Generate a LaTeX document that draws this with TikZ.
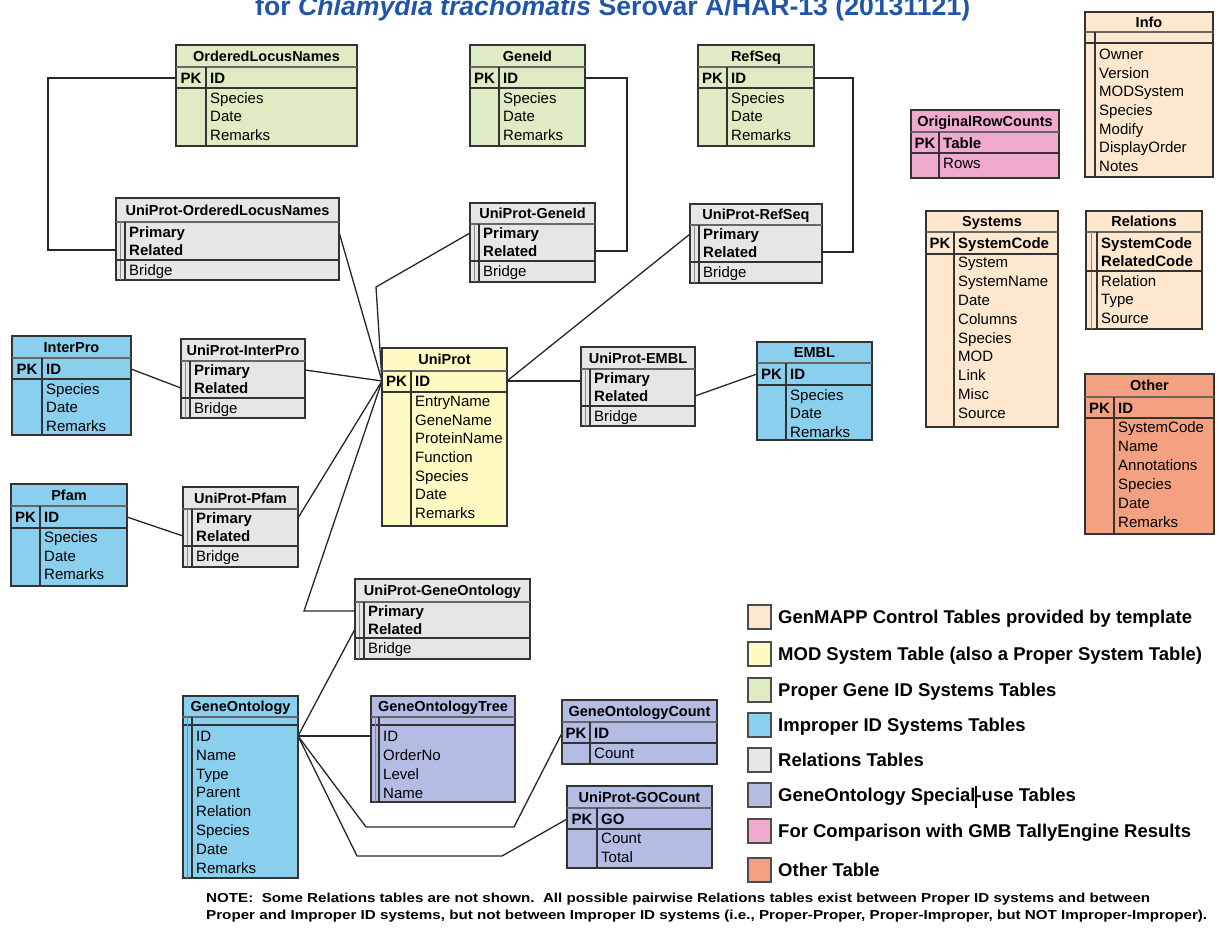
\documentclass[tikz,border=0pt]{standalone}
\usepackage{fontspec}
\setmainfont{Liberation Sans}
\usepackage{graphicx}
\usetikzlibrary{calc}
\pgfdeclarelayer{background}
\pgfsetlayers{background,main}
\definecolor{cpeach}{HTML}{FDE8CF}
\definecolor{cyellow}{HTML}{FFF9C2}
\definecolor{cgreen}{HTML}{DEEBC3}
\definecolor{cblue}{HTML}{8ACFEE}
\definecolor{cgrey}{HTML}{E6E6E6}
\definecolor{clav}{HTML}{B4BCE3}
\definecolor{cpink}{HTML}{F0AACE}
\definecolor{csalmon}{HTML}{F4A182}
\definecolor{ctitle}{HTML}{1F56A8}
\tikzset{
  tbl/.style={draw=black!80, line width=1.5pt, inner sep=0pt, outer sep=0pt, anchor=north west},
  hsep/.style={draw=black!60, line width=1.8pt},
  ksep/.style={draw=black!80, line width=1.3pt},
  vsep/.style={draw=black!80, line width=1.3pt},
  thinsep/.style={draw=black!45, line width=0.8pt},
  hdr/.style={font=\bfseries\fontsize{14.5}{17}\selectfont, inner sep=0pt, text height=10.5pt, text depth=0pt},
  pkt/.style={font=\bfseries\fontsize{15}{18}\selectfont, inner sep=0pt, text height=10.8pt, text depth=0pt},
  kf/.style={anchor=west, font=\bfseries\fontsize{15}{18}\selectfont, inner sep=0pt, text height=10.8pt, text depth=0pt},
  ff/.style={anchor=west, font=\fontsize{15}{18}\selectfont, inner sep=0pt, text height=10.8pt, text depth=0pt},
  conn/.style={draw=black!85, line width=1.3pt},
  legbox/.style={draw=black!70, line width=1.5pt, minimum width=23pt, minimum height=24pt, inner sep=0pt},
  legtxt/.style={anchor=west, font=\bfseries\fontsize{18.5}{20}\selectfont, inner sep=0pt, text height=13.3pt, text depth=0pt},
  notetxt/.style={anchor=base west, font=\bfseries\fontsize{13}{15}\selectfont, inner sep=0pt},
}
% #1 name, #2 x1, #3 y1, #4 x2, #5 y2, #6 fill, #7 header bottom, #8 title
\newcommand\erbox[8]{%
  \node[tbl, fill=#6, minimum width={#4-#2}, minimum height={#5-#3}] (#1) at (#2,#3) {};
  \draw[hsep] (#2,#7) -- (#4,#7);
  \node[hdr] (#1-h) at ({(#2+#4)/2},{(#3+#7)/2}) {#8};
}
\newcommand\erdiv[3]{\draw[vsep] (#1,#2) -- (#1,#3);}
% #1 name, #2 x1, #3 xd, #4 x2, #5 key bottom, #6 key centre y, #7 key text
\newcommand\erkeyrow[7]{%
  \draw[ksep] (#2,#5) -- (#4,#5);
  \node[pkt] (#1-pk) at ({(#2+#3)/2},#6) {PK};
  \node[kf] (#1-k-1) at (#3+4,#6) {#7};
}
% #1 prefix, #2 x, #3 first y, #4 spacing, #5 style, #6 list
\newcommand\erlist[6]{%
  \foreach \ftxt [count=\fidx] in {#6} {\node[#5] (#1-\fidx) at (#2,{#3+(\fidx-1)*#4}) {\ftxt};}
}
% relations table: #1 name, #2 x1, #3 y1, #4 x2, #5 y2, #6 header bottom, #7 title, #8 first key y, #9 key bottom
\newcommand\errel[9]{%
  \erbox{#1}{#2}{#3}{#4}{#5}{cgrey}{#6}{#7}
  \draw[thinsep] (#2+4,#6) -- (#2+4,#5);
  \draw[vsep] (#2+9,#6) -- (#2+9,#5);
  \draw[ksep] (#2,#9) -- (#4,#9);
  \erlist{#1-k}{#2+13}{#8}{18}{kf}{Primary,Related}
  \node[ff] (#1-b) at (#2+13,{(#9+#5)/2}) {Bridge};
}
\begin{document}
\begin{tikzpicture}[x=1pt,y=-1pt]
\useasboundingbox (0,0) rectangle (1219,930);
\clip (0,0) rectangle (1219,930);

% title (cut at the top, as in the reference)
\node[anchor=base west, inner sep=0pt, text=ctitle, font=\bfseries\fontsize{26.5}{30}\selectfont] (title) at (255,15)
  {\resizebox{715pt}{\height}{for \textit{Chlamydia trachomatis} Serovar A/HAR-13 (20131121)}};

% OrderedLocusNames
\erbox{oln}{176}{45}{357}{146}{cgreen}{67}{OrderedLocusNames}
\erdiv{206}{67}{146}
\erkeyrow{oln}{176}{206}{357}{88}{78}{ID}
\erlist{oln-f}{210}{98}{18.5}{ff}{Species,Date,Remarks}
% GeneId
\erbox{gid}{470}{45}{585}{146}{cgreen}{67}{GeneId}
\erdiv{499}{67}{146}
\erkeyrow{gid}{470}{499}{585}{88}{78}{ID}
\erlist{gid-f}{503}{98}{18.5}{ff}{Species,Date,Remarks}
% RefSeq
\erbox{rs}{698}{45}{814}{146}{cgreen}{67}{RefSeq}
\erdiv{727}{67}{146}
\erkeyrow{rs}{698}{727}{814}{88}{78}{ID}
\erlist{rs-f}{731}{98}{18.5}{ff}{Species,Date,Remarks}
% Info
\erbox{info}{1085}{12}{1213}{177}{cpeach}{32}{Info}
\draw[ksep] (1085,43) -- (1213,43);
\erdiv{1095}{32}{177}
\erlist{info-f}{1099}{54}{18.7}{ff}{Owner,Version,MODSystem,Species,Modify,DisplayOrder,Notes}
% OriginalRowCounts
\erbox{orc}{911}{110}{1059}{178}{cpink}{132}{OriginalRowCounts}
\erdiv{939}{132}{178}
\erkeyrow{orc}{911}{939}{1059}{153}{143}{Table}
\erlist{orc-f}{943}{163}{18.7}{ff}{Rows}
% Systems
\erbox{sys}{926}{211}{1058}{427}{cpeach}{232}{Systems}
\erdiv{954}{232}{427}
\erkeyrow{sys}{926}{954}{1058}{254}{243}{SystemCode}
\erlist{sys-f}{958}{262}{18.9}{ff}{System,SystemName,Date,Columns,Species,MOD,Link,Misc,Source}
% Relations
\erbox{rel}{1086}{211}{1202}{329}{cpeach}{232}{Relations}
\draw[thinsep] (1091,232) -- (1091,329);
\draw[vsep] (1097,232) -- (1097,329);
\draw[ksep] (1086,271) -- (1202,271);
\erlist{rel-k}{1101}{243}{18}{kf}{SystemCode,RelatedCode}
\erlist{rel-f}{1101}{281}{18.5}{ff}{Relation,Type,Source}
% Other
\erbox{oth}{1085}{374}{1214}{534}{csalmon}{397}{Other}
\erdiv{1114}{397}{534}
\erkeyrow{oth}{1085}{1114}{1214}{418}{408}{ID}
\erlist{oth-f}{1118}{427}{19}{ff}{SystemCode,Name,Annotations,Species,Date,Remarks}
% InterPro
\erbox{ipr}{12}{336}{131}{435}{cblue}{358}{InterPro}
\erdiv{42}{358}{435}
\erkeyrow{ipr}{12}{42}{131}{379}{369}{ID}
\erlist{ipr-f}{46}{389}{18.5}{ff}{Species,Date,Remarks}
% Pfam
\erbox{pfam}{11}{484}{127}{586}{cblue}{506}{Pfam}
\erdiv{40}{506}{586}
\erkeyrow{pfam}{11}{40}{127}{528}{517}{ID}
\erlist{pfam-f}{44}{537}{18.7}{ff}{Species,Date,Remarks}
% EMBL
\erbox{embl}{757}{342}{872}{440}{cblue}{363}{EMBL}
\erdiv{786}{363}{440}
\erkeyrow{embl}{757}{786}{872}{385}{374}{ID}
\erlist{embl-f}{790}{395}{18.5}{ff}{Species,Date,Remarks}
% UniProt
\erbox{up}{382}{348}{507}{526}{cyellow}{371}{UniProt}
\erdiv{411}{371}{526}
\erkeyrow{up}{382}{411}{507}{392}{381}{ID}
\erlist{up-f}{415}{401}{18.7}{ff}{EntryName,GeneName,ProteinName,Function,Species,Date,Remarks}
% Relations tables
\errel{uoln}{116}{198}{339}{280}{222}{UniProt-OrderedLocusNames}{232}{260}
\errel{ugid}{470}{203}{595}{282}{224}{UniProt-GeneId}{233}{261}
\errel{urs}{690}{204}{822}{283}{225}{UniProt-RefSeq}{234}{262}
\errel{uipr}{181}{339}{305}{418}{361}{UniProt-InterPro}{370}{398}
\errel{uembl}{581}{347}{695}{426}{369}{UniProt-EMBL}{378}{406}
\errel{upfam}{183}{487}{298}{567}{509}{UniProt-Pfam}{518}{546}
\errel{ugo}{355}{579}{530}{659}{602}{UniProt-GeneOntology}{611}{638}
% GeneOntology
\erbox{go}{183}{696}{298}{878}{cblue}{717}{GeneOntology}
\draw[ksep] (183,725) -- (298,725);
\draw[thinsep] (187,717) -- (187,878);
\draw[vsep] (192,717) -- (192,878);
\erlist{go-f}{196}{736}{18.8}{ff}{ID,Name,Type,Parent,Relation,Species,Date,Remarks}
% GeneOntologyTree
\erbox{got}{371}{696}{515}{802}{clav}{717}{GeneOntologyTree}
\draw[ksep] (371,725) -- (515,725);
\draw[thinsep] (375,717) -- (375,802);
\draw[vsep] (379,717) -- (379,802);
\erlist{got-f}{383}{736}{19}{ff}{ID,OrderNo,Level,Name}
% GeneOntologyCount
\erbox{goc}{562}{700}{717}{764}{clav}{722}{GeneOntologyCount}
\erdiv{590}{722}{764}
\erkeyrow{goc}{562}{590}{717}{743}{733}{ID}
\erlist{goc-f}{594}{753}{18.7}{ff}{Count}
% UniProt-GOCount
\erbox{ugoc}{567}{786}{712}{868}{clav}{808}{UniProt-GOCount}
\erdiv{597}{808}{868}
\erkeyrow{ugoc}{567}{597}{712}{829}{819}{GO}
\erlist{ugoc-f}{601}{838}{19}{ff}{Count,Total}

% connectors
\begin{pgfonlayer}{background}
\coordinate (hubL) at (up.west |- up-pk);
\coordinate (hubR) at (up.east |- up-pk);
\coordinate (goR) at (go.east |- go-f-1);
\draw[conn] (oln.west |- oln-pk) -- ++(-128,0) |- (uoln.west |- uoln-k-2);
\draw[conn] (gid.east |- gid-pk) -- ++(42,0) |- (ugid.east |- ugid-k-2);
\draw[conn] (rs.east |- rs-pk) -- ++(39,0) |- (urs.east |- urs-k-2);
\draw[conn] (uoln.east |- uoln-k-1) -- (hubL);
\draw[conn] (ugid.west |- ugid-k-1) -- ++(-94,54) -- (hubL);
\draw[conn] (urs.west |- urs-k-1) -- (hubR);
\draw[conn] (hubR) -- (uembl.west |- hubR);
\draw[conn] (uembl.east |- uembl-k-2) -- (embl.west |- embl-pk);
\draw[conn] (ipr.east |- ipr-pk) -- (uipr.west |- uipr-k-2);
\draw[conn] (uipr.east |- uipr-k-1) -- (hubL);
\draw[conn] (pfam.east |- pfam-pk) -- (upfam.west |- upfam-k-2);
\draw[conn] (upfam.east |- upfam-k-1) -- (hubL);
\draw[conn] (ugo.west |- ugo-k-1) -- ++(-51,0) -- (hubL);
\draw[conn] (goR) -- (ugo.west |- ugo-k-2);
\draw[conn] (goR) -- (got.west |- goR);
\draw[conn] (goR) -- ++(68,91) -- ++(148,0) -- (goc.west |- goc-pk);
\draw[conn] (goR) -- ++(59,120) -- ++(145,0) -- (ugoc.west |- ugoc-pk);
\end{pgfonlayer}

% legend
\node[legbox, fill=cpeach] (leg1) at (759.5,617) {};
\node[legtxt] (leg1-t) at (778,617) {GenMAPP Control Tables provided by template};
\node[legbox, fill=cyellow] (leg2) at (759.5,654) {};
\node[legtxt] (leg2-t) at (778,654) {MOD System Table (also a Proper System Table)};
\node[legbox, fill=cgreen] (leg3) at (759.5,690) {};
\node[legtxt] (leg3-t) at (778,690) {Proper Gene ID Systems Tables};
\node[legbox, fill=cblue] (leg4) at (759.5,725) {};
\node[legtxt] (leg4-t) at (778,725) {Improper ID Systems Tables};
\node[legbox, fill=cgrey] (leg5) at (759.5,760) {};
\node[legtxt] (leg5-t) at (778,760) {Relations Tables};
\node[legbox, fill=clav] (leg6) at (759.5,795) {};
\node[legtxt] (leg6-t) at (778,795) {GeneOntology Special-use Tables};
\node[legbox, fill=cpink] (leg7) at (759.5,831) {};
\node[legtxt] (leg7-t) at (778,831) {For Comparison with GMB TallyEngine Results};
\node[legbox, fill=csalmon] (leg8) at (759.5,870) {};
\node[legtxt] (leg8-t) at (778,870) {Other Table};
\draw[line width=1.2pt] (976,786) -- (976,808);

% note
\node[notetxt] (note1) at (206,902)
  {\resizebox{944pt}{\height}{NOTE:\ \ Some Relations tables are not shown.\ \ All possible pairwise Relations tables exist between Proper ID systems and between}};
\node[notetxt] (note2) at (206,919)
  {\resizebox{1001pt}{\height}{Proper and Improper ID systems, but not between Improper ID systems (i.e., Proper-Proper, Proper-Improper, but NOT Improper-Improper).}};
\end{tikzpicture}
\end{document}
